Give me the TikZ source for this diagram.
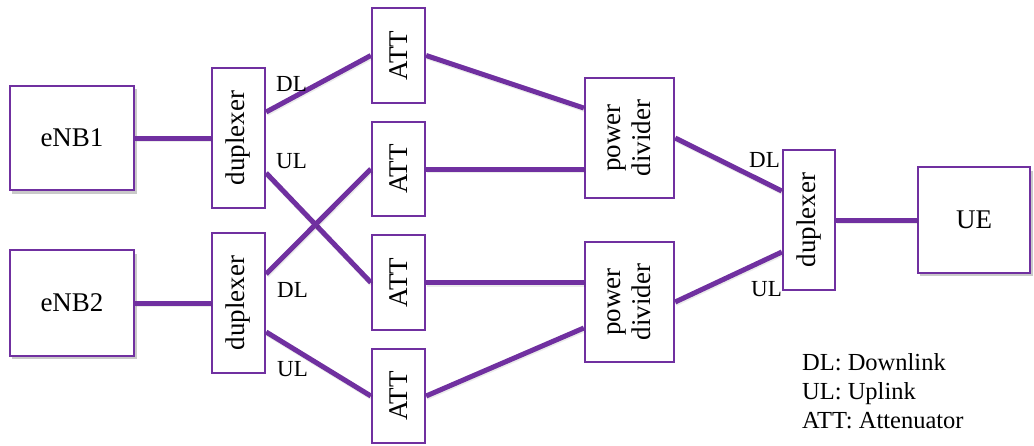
\documentclass[tikz,border=0pt]{standalone}
\usepackage{fontspec}
\setmainfont{Liberation Serif}
\usetikzlibrary{shadows,calc}
\definecolor{lpurple}{RGB}{112,48,160}
\begin{document}
\begin{tikzpicture}[x=1pt,y=-1pt,
  box/.style={draw=lpurple, line width=1.8pt, fill=white, inner sep=0pt,
    font=\fontsize{27}{30}\selectfont, align=center},
  shbox/.style={box, drop shadow={shadow xshift=2.5pt, shadow yshift=-3.5pt, opacity=0.3, fill=black!70}},
  link/.style={draw=lpurple, line width=5pt,
    preaction={draw=black, opacity=0.08, line width=5pt, transform canvas={xshift=0.8pt,yshift=-1.5pt}}},
  lbl/.style={font=\fontsize{23}{25}\selectfont, inner sep=0pt, anchor=base west},
  legend/.style={font=\fontsize{24.5}{29}\selectfont, inner sep=0pt, anchor=base west}
]
\useasboundingbox (0,0) rectangle (1034,445);

\node[shbox, minimum width=124.5pt, minimum height=104.5pt] (enb1) at (72,138) {eNB1};
\node[shbox, minimum width=124.5pt, minimum height=105.5pt] (enb2) at (72,303) {eNB2};
\node[box, minimum width=53.5pt, minimum height=140.5pt] (dup1) at (238.5,138) {\rotatebox{90}{duplexer}};
\node[box, minimum width=53.5pt, minimum height=140.5pt] (dup2) at (238.5,303) {\rotatebox{90}{duplexer}};
\node[box, minimum width=53.5pt, minimum height=95.5pt] (att1) at (398.5,55.5) {\rotatebox{90}{ATT}};
\node[box, minimum width=53.5pt, minimum height=94.5pt] (att2) at (398.5,169) {\rotatebox{90}{ATT}};
\node[box, minimum width=53.5pt, minimum height=95.5pt] (att3) at (398.5,282.5) {\rotatebox{90}{ATT}};
\node[box, minimum width=53.5pt, minimum height=94.5pt] (att4) at (398.5,396) {\rotatebox{90}{ATT}};
\node[box, minimum width=89.5pt, minimum height=120.5pt] (pd1) at (629.5,138) {\rotatebox{90}{\begin{tabular}{@{}c@{}}power\\divider\end{tabular}}};
\node[box, minimum width=89.5pt, minimum height=120.5pt] (pd2) at (629.5,302) {\rotatebox{90}{\begin{tabular}{@{}c@{}}power\\divider\end{tabular}}};
\node[box, minimum width=52.5pt, minimum height=140.5pt] (dup3) at (809,220) {\rotatebox{90}{duplexer}};
\node[shbox, minimum width=112.5pt, minimum height=105.5pt] (ue) at (974,220) {UE};

\draw[link] (enb1.east) -- (enb1.east -| dup1.west);
\draw[link] (enb2.east) -- (enb2.east -| dup2.west);
\draw[link] ([yshift=26pt]dup1.east) -- (att1.west);
\draw[link] ([yshift=-35pt]dup1.east) -- (att3.west);
\draw[link] ([yshift=29pt]dup2.east) -- (att2.west);
\draw[link] ([yshift=-29pt]dup2.east) -- (att4.west);
\draw[link] (att1.east) -- ([yshift=30pt]pd1.west);
\draw[link] (att2.east) -- (att2.east -| pd1.west);
\draw[link] (att3.east) -- (att3.east -| pd2.west);
\draw[link] (att4.east) -- ([yshift=-26pt]pd2.west);
\draw[link] (pd1.east) -- ([yshift=29pt]dup3.west);
\draw[link] (pd2.east) -- ([yshift=-32pt]dup3.west);
\draw[link] (dup3.east) -- (dup3.east -| ue.west);

\node[lbl] (ldl1) at (276,91) {DL};
\node[lbl] (lul1) at (276,168) {UL};
\node[lbl] (ldl2) at (277,297) {DL};
\node[lbl] (lul2) at (277,376) {UL};
\node[lbl] (ldl3) at (749,167) {DL};
\node[lbl] (lul3) at (751,296) {UL};

\node[legend] (leg1) at (802,370) {DL: Downlink};
\node[legend] (leg2) at (802,399) {UL: Uplink};
\node[legend] (leg3) at (802,428) {ATT: Attenuator};
\end{tikzpicture}
\end{document}
